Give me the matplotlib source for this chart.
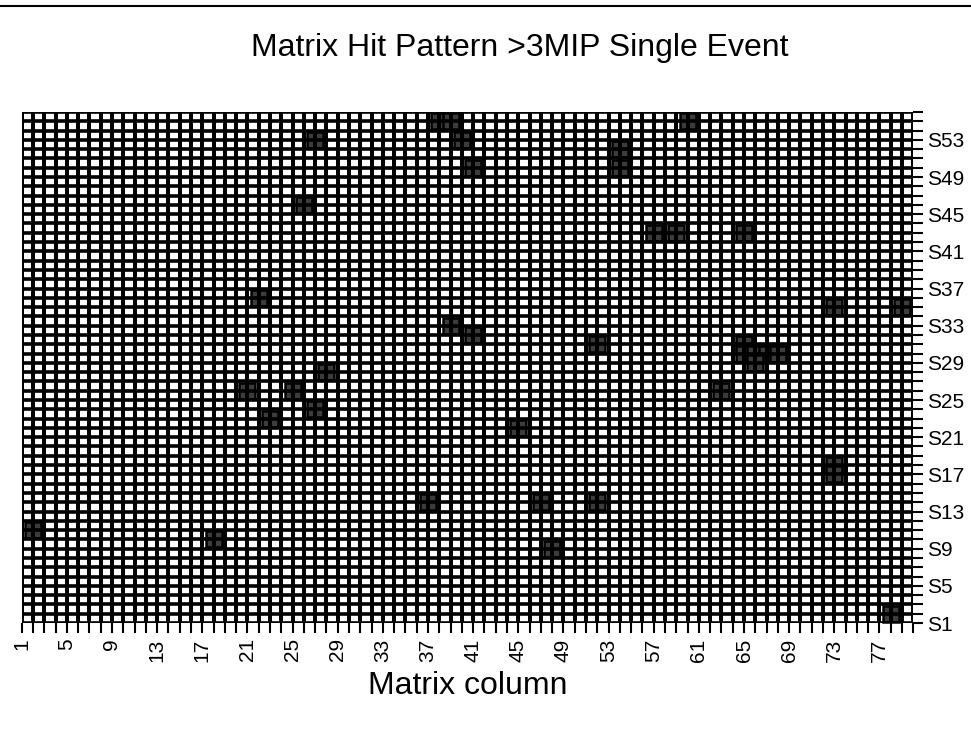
import numpy as np
import matplotlib.pyplot as plt
from matplotlib.lines import Line2D

plt.rcParams['font.family'] = ['Liberation Sans', 'DejaVu Sans']

# matrix size
n_cols = 80
n_rows = 56

# hit positions (column, row)
hit_cols = [38, 39, 60, 27, 40, 54, 41, 54, 26, 57, 59, 65, 22, 73, 79, 39, 41, 52,
            65, 65, 66, 67, 68, 66, 28, 21, 25, 63, 27, 23, 45, 73, 73, 37, 47, 52,
            2, 18, 48, 78]
hit_rows = [55, 55, 55, 53, 53, 52, 50, 50, 46, 43, 43, 43, 36, 35, 35, 33, 32, 31,
            31, 30, 30, 30, 30, 29, 28, 26, 26, 26, 24, 23, 22, 18, 17, 14, 14, 14,
            11, 10, 9, 2]

x_labels = [str(c) for c in range(1, n_cols + 1, 4)]
y_labels = ["S%d" % r for r in range(1, n_rows + 1, 4)]

fig = plt.figure(figsize=(9.71, 7.29), dpi=100)
ax = fig.add_axes([0.0223, 0.1454, 0.9183, 0.701])

# hits (under the grid lines)
ax.plot(hit_cols, hit_rows, linestyle='none', marker='s', ms=11.5,
        mfc='#3c3c3c', mec='black', mew=1.8, zorder=2)

# the grid itself
ax.vlines(np.arange(1, n_cols + 1), 1, n_rows, color='black', lw=2.9, zorder=3)
ax.hlines(np.arange(1, n_rows + 1), 1, n_cols, color='black', lw=2.6, zorder=3)

ax.set_xlim(1, n_cols)
ax.set_ylim(1, n_rows)
for s in ax.spines.values():
    s.set_visible(False)

ax.set_xticks(np.arange(1, n_cols + 1), minor=True)
ax.set_xticks(np.arange(1, n_cols + 1, 4))
ax.set_xticklabels(x_labels, rotation=90, fontsize=15)
ax.tick_params(axis='x', which='both', length=7, width=1.5, direction='out', pad=4)

ax.yaxis.tick_right()
ax.set_yticks(np.arange(1, n_rows + 1), minor=True)
ax.set_yticks(np.arange(1, n_rows + 1, 4))
ax.set_yticklabels(y_labels, fontsize=15)
ax.tick_params(axis='y', which='both', length=7, width=1.5, direction='out', pad=3)

ax.set_xlabel("Matrix column", fontsize=23, labelpad=7)

fig.text(520 / 971, 1 - 48 / 729, "Matrix Hit Pattern >3MIP Single Event",
         fontsize=23, ha='center', va='center')
fig.add_artist(Line2D([0, 1], [1 - 6 / 729, 1 - 6 / 729], color='black', lw=1.5))

fig.savefig("out.png", dpi=100)
